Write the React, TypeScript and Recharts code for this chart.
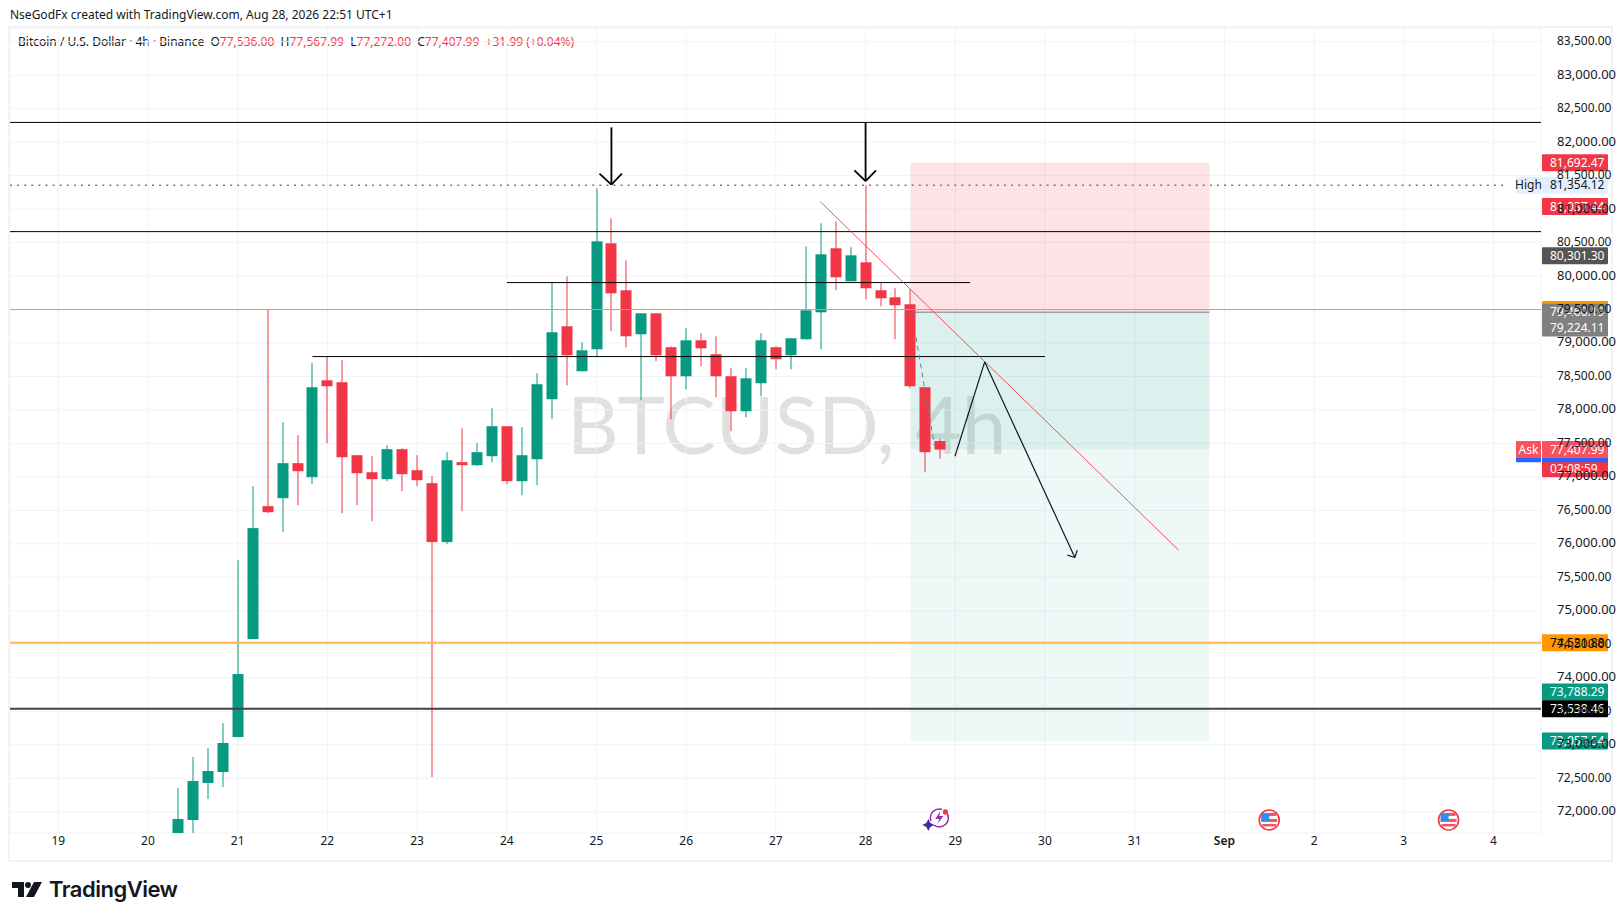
import React from 'react';
import { ComposedChart, Bar, XAxis, YAxis, CartesianGrid, ReferenceLine, ReferenceArea, ReferenceDot } from 'recharts';

const GREEN = '#089981';
const RED = '#f23645';
const INK = '#131722';
const FONT = '"Noto Sans", sans-serif';

// 4h bars, counted from the 19th at 00:00
const barIndex = [8, 9, 10, 11, 12, 13, 14, 15, 16, 17, 18, 19, 20, 21, 22, 23, 24, 25, 26, 27, 28, 29, 30, 31, 32, 33, 34, 35, 36, 37, 38, 39, 40, 41, 42, 43, 44, 45, 46, 47, 48, 49, 50, 51, 52, 53, 54, 55, 56, 57, 58, 59];
const opens = [71578, 71876, 72429, 72593, 73115, 74578, 76563, 76682, 77205, 76996, 78443, 78414, 77324, 77070, 76966, 77414, 77100, 76906, 76026, 77220, 77175, 77309, 77757, 76936, 77264, 78160, 79249, 78578, 78906, 80488, 79787, 79130, 79443, 78936, 78503, 79040, 78832, 78503, 77981, 78399, 78936, 78817, 79055, 79458, 80414, 79921, 80205, 79787, 79682, 79578, 78339, 77536];
const highs = [72354, 72817, 72951, 73324, 75757, 76861, 79503, 77817, 77623, 78697, 78802, 78742, 77324, 77309, 77473, 77429, 77324, 77011, 77369, 77727, 77503, 78026, 77757, 77742, 78548, 79906, 79996, 79011, 81309, 80861, 80234, 79443, 79443, 78951, 79220, 79145, 79100, 78623, 78623, 79145, 78951, 79070, 80443, 80787, 80817, 80429, 81354, 79891, 79817, 79802, 78339, 77568];
const lows = [71548, 71653, 72190, 72369, 73115, 74578, 76458, 76175, 76578, 76891, 77503, 76458, 76578, 76339, 76936, 76787, 76861, 72518, 75996, 76488, 77160, 77220, 76891, 76727, 76876, 77861, 78369, 78578, 78787, 79175, 78936, 78145, 78727, 77861, 78309, 78652, 78190, 77682, 77891, 78205, 78608, 78608, 79055, 78906, 79787, 79921, 79652, 79548, 79055, 78324, 77070, 77272];
const closes = [71891, 72459, 72608, 73026, 74056, 76235, 76473, 77205, 77085, 78339, 78354, 77294, 77055, 76966, 77414, 77041, 76951, 76026, 77249, 77175, 77369, 77757, 76936, 77324, 78384, 79160, 78817, 78891, 80518, 79742, 79100, 79443, 78817, 78503, 79040, 78921, 78503, 77981, 78473, 79040, 78757, 79070, 79488, 80324, 79981, 80309, 79817, 79667, 79563, 78354, 77369, 77408];

const priceTicks = [72000, 72500, 73000, 73500, 74000, 74500, 75000, 75500, 76000, 76500, 77000, 77500, 78000, 78500, 79000, 79500, 80000, 80500, 81000, 81500, 82000, 82500, 83000, 83500];
const dayTicks = [0, 6, 12, 18, 24, 30, 36, 42, 48, 54, 60, 66, 72, 78, 84, 90, 96];
const dayLabels = ['19', '20', '21', '22', '23', '24', '25', '26', '27', '28', '29', '30', '31', 'Sep', '2', '3', '4'];

const fullLines = [
  { y: 82294, stroke: '#000000', width: 1 },
  { y: 80663, stroke: '#000000', width: 1 },
  { y: 79499, stroke: '#ff9800', width: 1 },
  { y: 74521.88, stroke: '#ffb74d', width: 2 },
  { y: 73538.46, stroke: '#434343', width: 2 },
];
const partialLines = [
  { from: 30, to: 61, y: 79902 },
  { from: 17, to: 66, y: 78797 },
];
const trendLine = [{ x: 50.97, y: 81111 }, { x: 74.94, y: 75906 }];
const projection = [
  [{ x: 59.98, y: 77309 }, { x: 61.97, y: 78717 }],
  [{ x: 61.97, y: 78717 }, { x: 68, y: 75797 }],
  [{ x: 67.5, y: 75832 }, { x: 68, y: 75797 }],
  [{ x: 68.16, y: 75906 }, { x: 68, y: 75797 }],
];
const downArrows = [
  [{ x: 37, y: 82220 }, { x: 37, y: 81364 }],
  [{ x: 36.2, y: 81529 }, { x: 37, y: 81364 }],
  [{ x: 37.7, y: 81529 }, { x: 37, y: 81364 }],
  [{ x: 54, y: 82294 }, { x: 54, y: 81418 }],
  [{ x: 53.25, y: 81578 }, { x: 54, y: 81418 }],
  [{ x: 54.7, y: 81578 }, { x: 54, y: 81418 }],
];
const stopLink = [{ x: 57.37, y: 79090 }, { x: 58.6, y: 77473 }];

const priceTags = [
  { y: 81692.47, text: '81,692.47', bg: RED, fg: '#fff' },
  { y: 81354.12, text: '81,354.12', bg: '#e3effd', fg: INK, side: 'High' },
  { y: 81037.44, text: '81,037.44', bg: RED, fg: '#fff' },
  { y: 80301.3, text: '80,301.30', bg: '#555555', fg: '#fff' },
  { y: 79499, text: '', bg: '#ff9800', fg: '#fff' },
  { y: 79460.19, text: '79,460.19', bg: '#808080', fg: '#fff' },
  { y: 79224.11, text: '79,224.11', bg: '#808080', fg: '#fff' },
  { y: 77120, text: '02:08:59', bg: RED, fg: '#fff' },
  { y: 77347, text: '', bg: '#2962ff', fg: '#fff', side: ' ' },
  { y: 77407.99, text: '77,407.99', bg: '#f7525f', fg: '#fff', side: 'Ask' },
  { y: 74521.88, text: '74,521.88', bg: '#ff9800', fg: '#000' },
  { y: 73788.29, text: '73,788.29', bg: GREEN, fg: '#fff' },
  { y: 73538.46, text: '73,538.46', bg: '#000000', fg: '#fff' },
  { y: 73057.54, text: '73,057.54', bg: GREEN, fg: '#fff' },
];

const chartData = barIndex.map((t, i) => ({
  t,
  open: opens[i],
  close: closes[i],
  high: highs[i],
  low: lows[i],
  range: [lows[i], highs[i]],
}));

const Candle = (props: any) => {
  const { x, y, width, height, payload } = props;
  const color = payload.close >= payload.open ? GREEN : RED;
  const perPrice = height / (payload.high - payload.low);
  const top = y + (payload.high - Math.max(payload.open, payload.close)) * perPrice;
  const bodyH = Math.abs(payload.open - payload.close) * perPrice;
  const mid = Math.round(x + width / 2);
  return (
    <g>
      <rect x={mid - 0.5} y={y} width={1} height={height} fill={color} />
      <rect x={mid - 5.5} y={top} width={11} height={Math.max(bodyH, 1)} fill={color} />
    </g>
  );
};

const PriceTick = (props: any) => {
  const { x, y, payload } = props;
  const major = payload.value % 1000 === 0;
  return (
    <text x={x + 8} y={y + 3.5} fontSize={major ? 13 : 12} fill={INK} fontFamily={FONT}>
      {payload.value.toLocaleString('en-US', { minimumFractionDigits: 2 })}
    </text>
  );
};

const DayTick = (props: any) => {
  const { x, y, payload } = props;
  const label = dayLabels[dayTicks.indexOf(payload.value)];
  return (
    <text x={x} y={y + 4} fontSize={12} textAnchor="middle" fill={INK} fontWeight={label === 'Sep' ? 600 : 400} fontFamily={FONT}>
      {label}
    </text>
  );
};

const tagShape = (tag: any) => (props: any) => {
  const yy = props.y1 ?? props.y;
  const left = 1542;
  return (
    <g>
      {tag.side ? <rect x={left - 26} y={yy - 8.5} width={25} height={17} rx={1} fill={tag.bg} /> : null}
      {tag.side ? (
        <text x={left - 13.5} y={yy + 4} fontSize={12} textAnchor="middle" fill={tag.fg} fontFamily={FONT}>
          {tag.side}
        </text>
      ) : null}
      <rect x={left} y={yy - 8.5} width={66} height={17} rx={1} fill={tag.bg} />
      <text x={left + 8} y={yy + 4} fontSize={12} fill={tag.fg} fontFamily={FONT}>
        {tag.text}
      </text>
    </g>
  );
};

const UsFlag = (props: any) => {
  const { cx, cy } = props;
  return (
    <g>
      <circle cx={cx} cy={cy} r={10} fill="#fff" stroke={RED} strokeWidth={1.6} />
      <rect x={cx - 7} y={cy - 7} width={14} height={3} fill="#f7525f" />
      <rect x={cx - 8} y={cy - 1} width={16} height={3} fill="#f7525f" />
      <rect x={cx - 7} y={cy + 4} width={14} height={2.5} fill="#f7525f" />
      <rect x={cx - 8} y={cy - 6} width={8} height={7} fill="#2f8cf0" />
    </g>
  );
};

const Earnings = (props: any) => {
  const { cx, cy } = props;
  return (
    <g>
      <circle cx={cx + 2} cy={cy - 2} r={9} fill="#fff" stroke="#9c27b0" strokeWidth={1.5} strokeDasharray="20 5" />
      <path d={`M${cx + 3} ${cy - 9} L${cx - 2} ${cy - 1} L${cx + 2} ${cy - 1} L${cx} ${cy + 4} L${cx + 6} ${cy - 4} L${cx + 2} ${cy - 4} Z`} fill="#9c27b0" />
      <path d={`M${cx - 9} ${cy - 1} L${cx - 7} ${cy + 3} L${cx - 3} ${cy + 5} L${cx - 7} ${cy + 7} L${cx - 9} ${cy + 11} L${cx - 11} ${cy + 7} L${cx - 15} ${cy + 5} L${cx - 11} ${cy + 3} Z`} fill="#4527a0" />
      <circle cx={cx + 8} cy={cy - 8} r={2.6} fill={RED} />
    </g>
  );
};

const Header = () => (
  <>
    <div style={{ position: 'absolute', left: 10, top: 6, fontSize: 12, color: INK, fontFamily: FONT, whiteSpace: 'nowrap' }}>
      NseGodFx created with TradingView.com, Aug 28, 2026 22:51 UTC+1
    </div>
    <div style={{ position: 'absolute', left: 18, top: 33, fontSize: 12, color: INK, fontFamily: FONT, whiteSpace: 'pre' }}>
      Bitcoin / U.S. Dollar · 4h · Binance{'  '}O<span style={{ color: RED }}>77,536.00</span>{'  '}H<span style={{ color: RED }}>77,567.99</span>{'  '}L<span style={{ color: RED }}>77,272.00</span>{'  '}C<span style={{ color: RED }}>77,407.99</span>{'  '}<span style={{ color: RED }}>+31.99 (+0.04%)</span>
    </div>
    <svg style={{ position: 'absolute', left: 12, top: 882 }} width={30} height={16}>
      <path d="M0 0H12V15H6V6H0Z M22 0H30L22 15H14Z" fill="#131722" />
      <circle cx={16} cy={3} r={3} fill="#131722" />
    </svg>
    <div style={{ position: 'absolute', left: 49, top: 876, fontSize: 22, fontWeight: 600, color: INK, fontFamily: 'Inter, sans-serif', whiteSpace: 'nowrap', letterSpacing: -0.5 }}>
      TradingView
    </div>
  </>
);

const App = () => {
  return (
    <div style={{ position: 'absolute', left: 0, top: 0, width: 1623, height: 921, background: '#fff', overflow: 'hidden' }}>
      <div style={{ position: 'absolute', left: 8, top: 26, width: 1601, height: 832, border: '2px solid #f2f3f5' }} />
      <div style={{ position: 'absolute', left: 567, top: 375, fontSize: 80, color: '#e0e0e0', fontFamily: 'Lato, sans-serif', whiteSpace: 'pre' }}>
        BTCUSD, 4h
      </div>
      <Header />
      <div style={{ position: 'absolute', left: 0, top: 0 }}>
        <ComposedChart width={1623} height={921} data={chartData} margin={{ top: 28, right: 0, bottom: 58, left: 10 }}>
          <CartesianGrid stroke="#f0f3fa" />
          <XAxis dataKey="t" type="number" scale="linear" domain={[-3.23, 99.18]} allowDataOverflow ticks={dayTicks} interval={0} height={30} axisLine={false} tickLine={false} tick={<DayTick />} />
          <YAxis orientation="right" width={82} domain={[71682, 83704]} allowDataOverflow ticks={priceTicks} interval={0} axisLine={false} tickLine={false} tick={<PriceTick />} />
          <ReferenceArea x1={57} x2={77} y1={79460.19} y2={81692.47} fill="#f23645" fillOpacity={0.14} stroke="none" />
          <ReferenceArea x1={57} x2={77} y1={77407.99} y2={79460.19} fill="#089981" fillOpacity={0.14} stroke="none" />
          <ReferenceArea x1={57} x2={77} y1={73057.54} y2={77407.99} fill="#089981" fillOpacity={0.07} stroke="none" />
          {fullLines.map((l) => (
            <ReferenceLine key={l.y} y={l.y} stroke={l.stroke} strokeWidth={l.width} />
          ))}
          {partialLines.map((l) => (
            <ReferenceLine key={l.y} segment={[{ x: l.from, y: l.y }, { x: l.to, y: l.y }]} stroke="#000000" strokeWidth={1} />
          ))}
          <ReferenceLine segment={[{ x: 57, y: 79460.19 }, { x: 77, y: 79460.19 }]} stroke="#787b86" strokeWidth={1} />
          <ReferenceLine segment={[{ x: -3.23, y: 81354.12 }, { x: 96.9, y: 81354.12 }]} stroke="#787b86" strokeWidth={1.5} strokeDasharray="2 5.1" />
          <ReferenceLine segment={stopLink as any} stroke="#787b86" strokeDasharray="5 4" />
          <Bar dataKey="range" barSize={11} isAnimationActive={false} shape={<Candle />} />
          <ReferenceLine segment={trendLine as any} stroke="#f23645" strokeOpacity={0.85} strokeWidth={1} />
          {projection.map((s, i) => (
            <ReferenceLine key={'p' + i} segment={s as any} stroke={INK} strokeWidth={1.2} />
          ))}
          {downArrows.map((s, i) => (
            <ReferenceLine key={'a' + i} segment={s as any} stroke="#000000" strokeWidth={1.8} />
          ))}
          <ReferenceDot x={58.8} y={71877} r={8} shape={<Earnings />} ifOverflow="visible" />
          <ReferenceDot x={81} y={71877} r={8} shape={<UsFlag />} ifOverflow="visible" />
          <ReferenceDot x={93} y={71877} r={8} shape={<UsFlag />} ifOverflow="visible" />
          {priceTags.map((tag) => (
            <ReferenceLine key={tag.y} y={tag.y} stroke="none" shape={tagShape(tag)} />
          ))}
        </ComposedChart>
      </div>
    </div>
  );
};

export default App;
